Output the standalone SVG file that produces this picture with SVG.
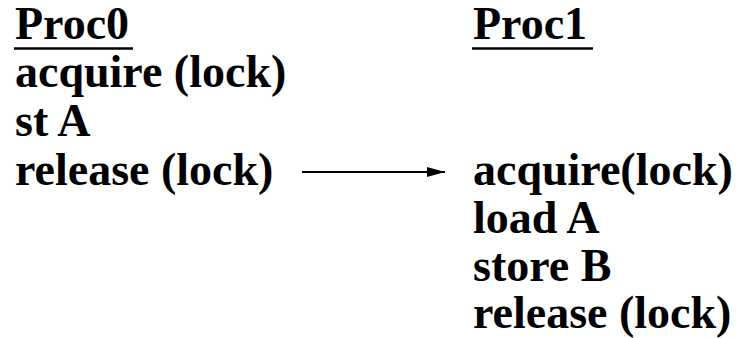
<svg xmlns="http://www.w3.org/2000/svg" width="745" height="338" viewBox="0 0 745 338">
  <defs>
    <style>
      .code { font-family: 'Liberation Serif', 'Times New Roman', serif; font-weight: 700; font-size: 46px; fill: #000; }
      .ul { stroke: #000; stroke-width: 2.5; }
      .conn { stroke: #000; stroke-width: 2; fill: none; }
    </style>
    <marker id="arrowhead" viewBox="0 0 18 10" refX="18" refY="5" markerWidth="18" markerHeight="10" markerUnits="userSpaceOnUse" orient="auto">
      <path d="M0,0 L18,5 L0,10 Z" fill="#000"/>
    </marker>
  </defs>
  <rect width="745" height="338" fill="#fff"/>

  <!-- Processor 0 column -->
  <g id="proc0">
    <text class="code" x="15" y="39">Proc0</text>
    <line class="ul" x1="14" y1="48.5" x2="133" y2="48.5"/>
    <text class="code" x="15" y="87">acquire (lock)</text>
    <text class="code" x="15" y="136">st A</text>
    <text class="code" x="15" y="185">release (lock)</text>
  </g>

  <!-- Processor 1 column -->
  <g id="proc1">
    <text class="code" x="473" y="39">Proc1</text>
    <line class="ul" x1="472" y1="48.5" x2="593" y2="48.5"/>
    <text class="code" x="473" y="185">acquire(lock)</text>
    <text class="code" x="473" y="233">load A</text>
    <text class="code" x="473" y="281">store B</text>
    <text class="code" x="473" y="328">release (lock)</text>
  </g>

  <!-- release -> acquire ordering -->
  <g id="connectors">
    <line class="conn" x1="302" y1="172" x2="445" y2="172" marker-end="url(#arrowhead)"/>
  </g>
</svg>
